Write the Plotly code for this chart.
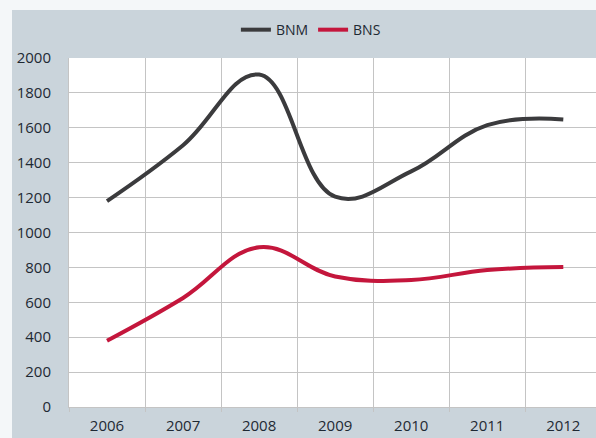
import plotly.graph_objects as go

# Annual values for the two series
years = ["2006", "2007", "2008", "2009", "2010", "2011", "2012"]
bnm = [1180, 1500, 1905, 1205, 1350, 1615, 1648]
bns = [380, 625, 915, 748, 728, 785, 802]

y_ticks = [0, 200, 400, 600, 800, 1000, 1200, 1400, 1600, 1800, 2000]

panel_bg = "#cad4db"
grid_col = "#c4c4c4"
text_col = "#1e2933"
font_family = "Open Sans, Liberation Sans, sans-serif"

fig = go.Figure()
fig.add_trace(go.Scatter(
    x=years, y=bnm, name="BNM", mode="lines",
    line=dict(color="#3b3b3d", width=4, shape="spline", smoothing=1.15),
))
fig.add_trace(go.Scatter(
    x=years, y=bns, name="BNS", mode="lines",
    line=dict(color="#c4163c", width=4, shape="spline", smoothing=1.15),
))

fig.update_layout(
    width=596, height=438,
    margin=dict(l=69, r=0, t=58, b=31),
    paper_bgcolor=panel_bg,
    plot_bgcolor="white",
    font=dict(family=font_family, color=text_col, size=15),
    legend=dict(
        orientation="h", x=0.459, xanchor="center", y=1.08, yanchor="middle",
        font=dict(size=14, color=text_col), bgcolor="rgba(0,0,0,0)",
        itemwidth=30, tracegroupgap=0,
    ),
    shapes=[
        # white outer border strips at top and left of the panel
        dict(type="rect", xref="paper", yref="paper",
             x0=-69 / 527, x1=1.0, y0=1 + 48 / 349, y1=1 + 58 / 349,
             fillcolor="#f4f7f9", line=dict(width=0), layer="below"),
        dict(type="rect", xref="paper", yref="paper",
             x0=-69 / 527, x1=-57 / 527, y0=-31 / 349, y1=1 + 58 / 349,
             fillcolor="#f4f7f9", line=dict(width=0), layer="below"),
    ],
)

fig.update_xaxes(
    type="category",
    range=[-0.5, 6.43],
    tickson="boundaries",
    showgrid=True, gridcolor=grid_col, gridwidth=1,
    showline=True, linecolor=grid_col, linewidth=1,
    ticks="outside", ticklen=4, tickcolor=grid_col,
    tickfont=dict(size=15, color=text_col),
    ticklabelstandoff=5,
    zeroline=False,
)
fig.update_yaxes(
    range=[0, 2000],
    tickvals=y_ticks,
    showgrid=True, gridcolor=grid_col, gridwidth=1,
    showline=True, linecolor=grid_col, linewidth=1,
    ticks="", tickfont=dict(size=15, color=text_col),
    ticklabelstandoff=14,
    zeroline=False,
)

fig.write_html("out.html")
